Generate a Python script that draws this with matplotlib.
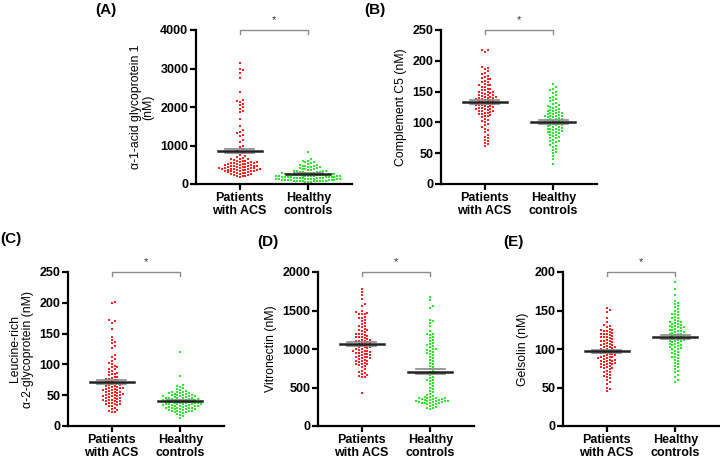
import numpy as np
import matplotlib
matplotlib.use("Agg")
import matplotlib.pyplot as plt

plt.rcParams['font.family'] = ['Liberation Sans', 'DejaVu Sans']

groups = ["Patients\nwith ACS", "Healthy\ncontrols"]

# panel A: alpha-1-acid glycoprotein 1 (nM)
a_acs = [3150, 2990, 2950, 2880, 2760, 2390, 2190, 2150, 2120, 2080, 2040, 2000, 1960, 1900, 1860,
         1690, 1510, 1390, 1350, 1320, 1280, 1250, 1140, 1080, 990, 950, 900, 870, 840, 800,
         760, 720, 700, 680, 660, 650, 640, 620, 610, 600, 590, 580, 570, 560, 555, 550, 545, 540,
         530, 520, 515, 510, 500, 495, 490, 480, 475, 470, 460, 455, 450, 445, 440, 430, 425, 420,
         415, 410, 405, 400, 395, 390, 385, 380, 375, 370, 365, 360, 355, 350, 345, 340, 330, 325,
         320, 310, 300, 295, 290, 280, 270, 260, 250, 240, 230, 220, 210, 200, 190]
a_hc = [830, 640, 610, 590, 570, 560, 540, 520, 500, 490, 480, 470, 460, 450, 440, 430, 420, 410,
        400, 390, 380, 370, 360, 350, 345, 340, 330, 320, 315, 310, 300, 295, 290, 285, 280, 275,
        270, 265, 260, 255, 250, 245, 240, 235, 230, 225, 220, 215, 210, 205, 200, 195, 190, 185,
        180, 175, 170, 165, 160, 155, 150, 145, 140, 135, 130, 125, 120, 115, 110, 105, 100, 95,
        90, 85, 80, 75, 70, 65, 60, 55, 60, 70, 80, 90, 100, 110, 120, 130, 140, 150, 160, 170,
        180, 190, 200, 210, 220, 230, 240, 250]

# panel B: complement C5 (nM)
b_acs = [218, 217, 215, 190, 188, 186, 183, 180, 178, 176, 174, 172, 170, 168, 166, 165, 163, 161,
         160, 158, 157, 155, 153, 152, 150, 149, 148, 147, 146, 145, 144, 143, 142, 141, 140, 139,
         138, 137, 136, 135, 134, 133, 132, 131, 130, 129, 128, 127, 126, 125, 124, 123, 122, 121,
         120, 119, 118, 117, 116, 115, 114, 113, 112, 111, 110, 108, 106, 104, 102, 100, 98, 95,
         92, 90, 88, 85, 80, 77, 75, 72, 70, 67, 65, 62,
         125, 130, 135, 140, 145, 128, 132, 138, 142, 122, 118, 150, 155, 160, 170]
b_hc = [162, 158, 155, 152, 150, 148, 145, 142, 140, 138, 136, 134, 132, 130, 128, 126, 125, 124,
        122, 120, 119, 118, 117, 116, 115, 114, 113, 112, 111, 110, 109, 108, 107, 106, 105, 104,
        103, 102, 101, 100, 99, 98, 97, 96, 95, 94, 93, 92, 91, 90, 89, 88, 87, 86, 85, 84, 83,
        82, 80, 78, 76, 74, 72, 70, 68, 66, 64, 62, 60, 57, 55, 52, 50, 45, 40, 33,
        100, 105, 110, 95, 90, 115, 120, 85, 100, 110, 125, 80, 75, 70]

# panel C: leucine-rich alpha-2-glycoprotein (nM)
c_acs = [202, 199, 172, 170, 168, 157, 145, 140, 137, 135, 130, 126, 115, 112, 108, 105, 102, 100,
         98, 96, 95, 93, 92, 90, 88, 86, 85, 84, 82, 80, 79, 78, 77, 76, 75, 74, 73, 72, 71, 70,
         69, 68, 67, 66, 65, 64, 63, 62, 61, 60, 59, 58, 57, 56, 55, 54, 53, 52, 51, 50, 49, 48,
         47, 46, 45, 44, 43, 42, 41, 40, 39, 38, 37, 36, 35, 34, 33, 32, 30, 28, 26, 25, 23, 22,
         45, 50, 55, 60, 65, 40, 48, 52, 58, 62, 35, 42]
c_hc = [120, 81, 67, 65, 63, 61, 60, 58, 57, 56, 55, 54, 53, 52, 51, 50, 49, 48, 47, 46, 45, 44,
        43, 42, 41, 40, 39, 38, 37, 36, 35, 34, 33, 32, 31, 30, 29, 28, 27, 26, 25, 24, 23, 22,
        21, 20, 18, 16, 13,
        45, 42, 40, 38, 36, 35, 34, 33, 32, 30, 44, 46, 48, 50, 52, 41, 39, 37, 35, 43, 47, 31,
        29, 27, 25, 50, 55, 40, 38, 36, 34, 44, 42, 28, 26, 24, 45, 33, 30, 22, 48, 53]

# panel D: vitronectin (nM)
d_acs = [1780, 1740, 1700, 1650, 1580, 1560, 1500, 1480, 1470, 1460, 1450, 1420, 1400, 1380, 1360,
         1340, 1320, 1300, 1280, 1260, 1250, 1240, 1220, 1200, 1190, 1180, 1170, 1160, 1150, 1140,
         1130, 1120, 1110, 1100, 1090, 1080, 1070, 1060, 1050, 1040, 1030, 1020, 1010, 1000, 990,
         980, 970, 960, 950, 940, 930, 920, 910, 900, 890, 880, 870, 860, 850, 840, 830, 820, 810,
         800, 790, 780, 760, 740, 720, 700, 690, 680, 660, 650, 640, 630, 430,
         1000, 1050, 1100, 950, 900, 1150, 1200, 1250, 1300, 850, 800, 1020, 980, 1080, 1120, 960,
         920, 880, 1400, 1450]
d_hc = [1680, 1640, 1560, 1530, 1380, 1360, 1340, 1300, 1240, 1200, 1190, 1180, 1160, 1140, 1120,
        1100, 1080, 1060, 1040, 1020, 1000, 990, 980, 960, 940, 920, 900, 880, 860, 840, 820, 800,
        780, 760, 740, 720, 700, 690, 680, 660, 640, 620, 600, 580, 560, 540, 520, 500, 480, 460,
        440, 420, 400, 390, 380, 370, 360, 350, 345, 340, 335, 330, 325, 320, 315, 310, 305, 300,
        295, 290, 280, 270, 260, 250, 240, 230, 220,
        350, 340, 330, 320, 310, 300, 360, 370, 380, 1000, 950, 1050, 700, 600]

# panel E: gelsolin (nM)
e_acs = [153, 151, 148, 140, 135, 131, 130, 128, 126, 125, 124, 123, 122, 121, 120, 119, 118, 117,
         116, 115, 114, 113, 112, 111, 110, 109, 108, 107, 106, 105, 104, 103, 102, 101, 100, 99,
         98, 97, 96, 95, 94, 93, 92, 91, 90, 89, 88, 87, 86, 85, 84, 83, 82, 81, 80, 79, 78, 77,
         76, 75, 74, 72, 70, 68, 66, 64, 62, 60, 57, 54, 50, 48, 46,
         100, 95, 90, 85, 105, 110, 98, 92, 88, 82, 125, 120, 115, 102, 96, 86, 80, 75, 70, 65]
e_hc = [187, 178, 170, 162, 160, 158, 156, 154, 152, 150, 148, 146, 144, 142, 140, 138, 136, 135,
        134, 133, 132, 131, 130, 129, 128, 127, 126, 125, 124, 123, 122, 121, 120, 119, 118, 117,
        116, 115, 114, 113, 112, 111, 110, 109, 108, 107, 106, 105, 104, 103, 102, 101, 100, 98,
        96, 94, 92, 90, 88, 86, 84, 82, 80, 78, 76, 74, 72, 70, 66, 63, 60, 57,
        120, 125, 130, 115, 110, 118, 122, 128, 135, 140, 105, 100, 95, 90, 145, 112]

# mean and SEM
means = {"A": (860, 270), "B": (133, 101), "C": (71, 40), "D": (1065, 705), "E": (97, 116)}
sems = {"A": (60, 18), "B": (3, 3), "C": (3, 1.5), "D": (25, 30), "E": (2.2, 2.5)}

panels = [
    ("A", a_acs, a_hc, "\u03b1-1-acid glycoprotein 1\n(nM)", 4000, 1000),
    ("B", b_acs, b_hc, "Complement C5 (nM)", 250, 50),
    ("C", c_acs, c_hc, "Leucine-rich\n\u03b1-2-glycoprotein (nM)", 250, 50),
    ("D", d_acs, d_hc, "Vitronectin (nM)", 2000, 500),
    ("E", e_acs, e_hc, "Gelsolin (nM)", 200, 50),
]
# axes boxes in pixels (left, top)
boxes = {"A": (196, 30), "B": (441, 30), "C": (68, 272), "D": (318, 272), "E": (563, 272)}
letter_pos = {"A": (95, 3), "B": (364, 3), "C": (0, 232), "D": (257, 235), "E": (503, 235)}

W, H = 720, 459
fig = plt.figure(figsize=(7.2, 4.59), dpi=100)


def swarm(ax, xc, vals, d=2.9):
    vals = np.asarray(vals, dtype=float)
    pts = ax.transData.transform(np.column_stack([np.full(len(vals), xc), vals]))
    order = np.argsort(vals)
    placed = []
    xs = np.zeros(len(vals))
    for i in order:
        y = pts[i, 1]
        near = [(px, py) for px, py in placed if abs(py - y) < d]
        k = 0
        while True:
            off = ((k + 1) // 2) * d * (1 if k % 2 else -1) if k else 0
            x = pts[i, 0] + off
            if all((x - px) ** 2 + (y - py) ** 2 >= d * d * 0.95 for px, py in near):
                break
            k += 1
        placed.append((x, y))
        xs[i] = x
    back = ax.transData.inverted().transform(np.column_stack([xs, pts[:, 1]]))
    return back[:, 0]


for key, acs, hc, ylabel, ymax, step in panels:
    left, top = boxes[key]
    ax = fig.add_axes([left / W, (H - top - 154) / H, 156 / W, 154 / H])
    ax.set_xlim(-0.636, 1.636)
    ax.set_ylim(0, ymax)
    ax.set_yticks(np.arange(0, ymax + 1, step))
    ax.set_xticks([0, 1])
    ax.set_xticklabels(groups, fontweight='bold', fontsize=9, linespacing=1.1)
    for lab in ax.get_yticklabels():
        lab.set_fontweight('bold')
        lab.set_fontsize(9)
    ax.spines['top'].set_visible(False)
    ax.spines['right'].set_visible(False)
    ax.spines['left'].set_linewidth(1.6)
    ax.spines['bottom'].set_linewidth(1.6)
    ax.tick_params(width=1.6, length=4, pad=1.5)
    ax.set_ylabel(ylabel, fontsize=8.8, linespacing=1.1, labelpad=4)

    for xc, vals, col in [(0, acs, '#ff2020'), (1, hc, '#2ee62e')]:
        xs = swarm(ax, xc, vals)
        ax.scatter(xs, vals, s=4, marker='s', color=col, linewidths=0, zorder=2)

    for xc, m, se in zip([0, 1], means[key], sems[key]):
        ax.plot([xc - 0.21, xc + 0.21], [m + se, m + se], color='#888888', lw=1.2, zorder=3)
        ax.plot([xc - 0.21, xc + 0.21], [m - se, m - se], color='#888888', lw=1.2, zorder=3)
        ax.plot([xc - 0.32, xc + 0.32], [m, m], color='#222222', lw=1.8, zorder=4)

    # significance bracket
    tick = ymax * 0.025
    ax.plot([0, 0, 1, 1], [ymax - tick, ymax, ymax, ymax - tick], color='#8c8c8c', lw=1,
            clip_on=False)
    ax.text(0.5, ymax * 1.03, "*", ha='center', va='bottom', fontsize=8, color='#333333')

    lx, ly = letter_pos[key]
    fig.text(lx / W, 1 - ly / H, "(" + key + ")", fontsize=11, fontweight='bold',
             ha='left', va='top')

fig.savefig("out.png", dpi=100)
